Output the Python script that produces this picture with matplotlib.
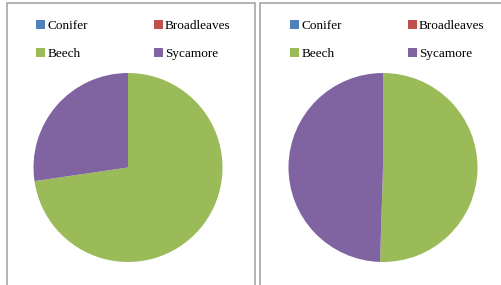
import matplotlib as M
M.use('agg')
import matplotlib.pyplot as plt
from matplotlib.patches import Rectangle

# species shares (percent)
species = ['Conifer', 'Broadleaves', 'Beech', 'Sycamore']
left_vals = [0, 0, 72.7, 27.3]
right_vals = [0, 0, 50.5, 49.5]
colors = ['#4F81BD', '#C0504D', '#9BBB59', '#8064A2']

W, H = 502, 285
fig = plt.figure(figsize=(W / 100, H / 100), dpi=100)

def px(x0, y0, w, h):
    # pixel box (top-left origin) -> figure fraction
    return [x0 / W, 1 - (y0 + h) / H, w / W, h / H]

# panel frames
for x0, x1 in ((7, 255), (260, 520)):
    fig.patches.append(Rectangle((x0 / W, -0.1), (x1 - x0) / W, 1.1 - 3 / H,
                                 transform=fig.transFigure, fill=False,
                                 edgecolor='#a6a6a6', lw=1.2))

r = 94.5
order = [0, 2, 1, 3]  # legend fills by column, reference reads by row
for cx, vals, lx in ((128, left_vals, 36), (383, right_vals, 290)):
    ax = fig.add_axes(px(cx - r, 167.5 - r, 2 * r, 2 * r))
    wedges, _ = ax.pie(vals, colors=colors, startangle=90, counterclock=False,
                       wedgeprops=dict(linewidth=0))
    ax.set_xlim(-1, 1)
    ax.set_ylim(-1, 1)
    ax.axis('off')
    fig.legend([wedges[i] for i in order], [species[i] for i in order],
               ncol=2, frameon=False,
               loc='upper left', bbox_to_anchor=(lx / W, 1 - 20 / H),
               prop=dict(family='Liberation Serif', size=9.5),
               handlelength=0.7, handleheight=0.7, handletextpad=0.15,
               columnspacing=5.0, labelspacing=1.2, borderaxespad=0,
               borderpad=0)

fig.savefig('out.png', dpi=100)
plt.close(fig)
